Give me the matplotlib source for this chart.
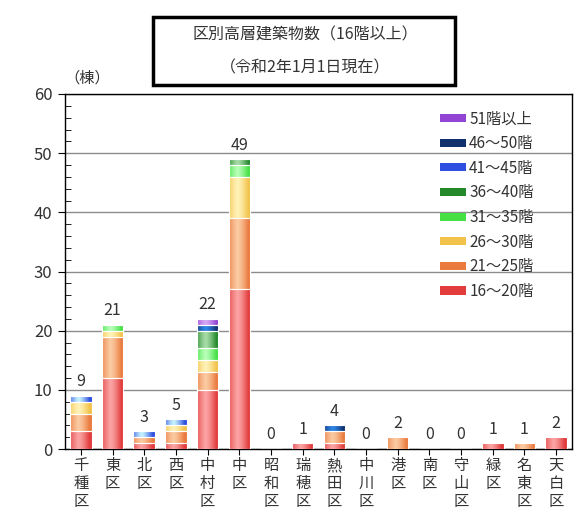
import numpy as np
import matplotlib
matplotlib.use('Agg')
import matplotlib.pyplot as plt
from matplotlib.patches import Patch, Rectangle
from matplotlib.colors import LinearSegmentedColormap
from matplotlib.ticker import MultipleLocator

plt.rcParams['font.family'] = ['Noto Sans CJK JP', 'DejaVu Sans']

wards = ['千種区', '東区', '北区', '西区', '中村区', '中区', '昭和区', '瑞穂区',
         '熱田区', '中川区', '港区', '南区', '守山区', '緑区', '名東区', '天白区']

# floors-band counts per ward
f16_20 = [3, 12, 1, 1, 10, 27, 0, 1, 1, 0, 0, 0, 0, 1, 0, 2]
f21_25 = [3, 7, 1, 2, 3, 12, 0, 0, 2, 0, 2, 0, 0, 0, 1, 0]
f26_30 = [2, 1, 0, 1, 2, 7, 0, 0, 0, 0, 0, 0, 0, 0, 0, 0]
f31_35 = [0, 1, 0, 0, 2, 2, 0, 0, 0, 0, 0, 0, 0, 0, 0, 0]
f36_40 = [0, 0, 0, 0, 3, 1, 0, 0, 0, 0, 0, 0, 0, 0, 0, 0]
f41_45 = [1, 0, 1, 1, 0, 0, 0, 0, 0, 0, 0, 0, 0, 0, 0, 0]
f46_50 = [0, 0, 0, 0, 1, 0, 0, 0, 1, 0, 0, 0, 0, 0, 0, 0]
f51 = [0, 0, 0, 0, 1, 0, 0, 0, 0, 0, 0, 0, 0, 0, 0, 0]

series = [f16_20, f21_25, f26_30, f31_35, f36_40, f41_45, f46_50, f51]
labels = ['16～20階', '21～25階', '26～30階', '31～35階', '36～40階',
          '41～45階', '46～50階', '51階以上']
# (edge colour, centre highlight)
colors = [('#e23c3c', '#fba4a4'), ('#ea7a3e', '#fbcba2'), ('#f2c24a', '#fff3b8'),
          ('#44e044', '#b8ffb8'), ('#23892a', '#a8dca8'), ('#2f4fe0', '#c8f4ff'),
          ('#10306e', '#2f86e6'), ('#9244d2', '#d6a8f4')]

fig = plt.figure(figsize=(5.76, 5.26), dpi=100)
ax = fig.add_axes([65/576, 1-449/526, 507/576, 355/526])

x = np.arange(len(wards))
w = 0.68
bottom = np.zeros(len(wards))
prof = np.abs(np.linspace(-1, 1, 64) + 0.2)
prof = np.clip(prof, 0, 1) ** 1.3
grad = (1 - prof)[None, :]

for vals, (c_edge, c_mid), lab in zip(series, colors, labels):
    vals = np.array(vals, dtype=float)
    bars = ax.bar(x, vals, w, bottom=bottom, color=c_edge, edgecolor='white',
                  linewidth=0.8, zorder=3)
    cmap = LinearSegmentedColormap.from_list('g', [c_edge, c_mid])
    for b, v in zip(bars, vals):
        if v <= 0:
            continue
        x0, y0 = b.get_x(), b.get_y()
        im = ax.imshow(grad, cmap=cmap, vmin=0, vmax=1, aspect='auto',
                       extent=(x0, x0 + b.get_width(), y0, y0 + v), zorder=3.5,
                       interpolation='bicubic')
        im.set_clip_path(b)
        ax.add_patch(Rectangle((x0, y0), b.get_width(), v, fill=False,
                               edgecolor='white', lw=0.8, zorder=4))
    bottom += vals

for xi, t in zip(x, bottom):
    ax.annotate('%d' % t, (xi, t), xytext=(0, 4), textcoords='offset points',
                ha='center', va='bottom', fontsize=11.5, color='#333333')

ax.set_xlim(-0.5, len(wards) - 0.5)
ax.set_ylim(0, 60)
ax.yaxis.set_major_locator(MultipleLocator(10))
ax.yaxis.set_minor_locator(MultipleLocator(2))
ax.grid(axis='y', which='major', color='#8c8c8c', lw=1, zorder=1)
ax.set_axisbelow(True)
for s in ax.spines.values():
    s.set_color('black')
    s.set_linewidth(1)
ax.tick_params(axis='y', which='major', direction='out', length=5, labelsize=12,
               labelcolor='#333333', pad=4)
ax.tick_params(axis='y', which='minor', direction='in', length=4)
ax.set_xticks(x)
ax.set_xticklabels(['\n'.join(n) for n in wards], fontsize=11, color='#333333',
                   linespacing=1.05)
ax.tick_params(axis='x', direction='out', length=4, pad=2)

handles = [Patch(facecolor=c[0], edgecolor='none') for c in colors]
leg = ax.legend(handles[::-1], labels[::-1], loc='upper left',
                bbox_to_anchor=(0.725, 0.975), frameon=False, fontsize=11,
                handlelength=1.7, handleheight=0.45, handletextpad=0.2,
                labelspacing=0.5, borderpad=0)
for t in leg.get_texts():
    t.set_color('#333333')

fig.add_artist(Rectangle((153/576, 1-85/526), 302/576, 68/526, fill=False,
                         edgecolor='black', lw=2.5, transform=fig.transFigure))
fig.text(305/576, 1-35/526, '区別高層建築物数（16階以上）', ha='center', va='center',
         fontsize=11.5, color='#333333')
fig.text(305/576, 1-68/526, '（令和2年1月1日現在）', ha='center', va='center',
         fontsize=11.5, color='#333333')
fig.text(87/576, 1-78/526, '（棟）', ha='center', va='center', fontsize=11,
         color='#333333')

fig.savefig('out.png', dpi=100)
